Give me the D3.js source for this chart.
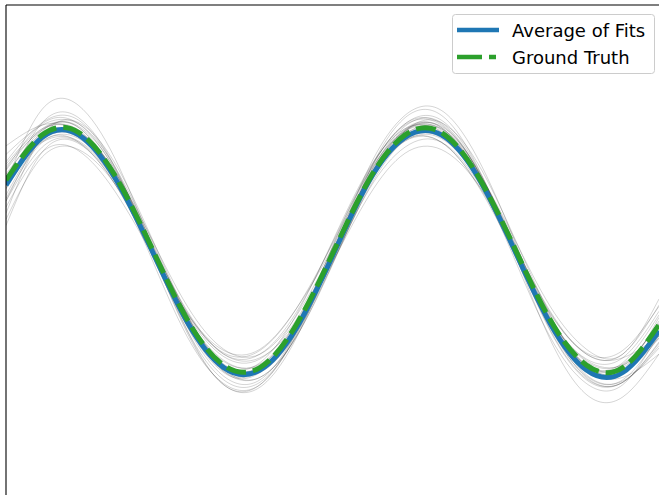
<!DOCTYPE html>
<html>
<head>
<meta charset="utf-8">
<script src="https://cdn.jsdelivr.net/npm/d3@7"></script>
<style>
    html, body { margin: 0; padding: 0; background: #fff; }
    #chart-container { width: 659px; height: 495px; overflow: hidden; }
    text { font-family: "DejaVu Sans", sans-serif; }
</style>
</head>
<body>
<div id="chart-container"></div>
<script>
// Data State
const xValues = [0, 0.1, 0.2, 0.3, 0.4, 0.5, 0.6, 0.7, 0.8, 0.9, 1.0, 1.1, 1.2, 1.3, 1.4, 1.5, 1.6, 1.7, 1.8];

const groundTruth = [0.57, 0.94, 0.96, 0.61, 0.03, -0.57, -0.94, -0.96, -0.61, -0.03, 0.57, 0.94, 0.96, 0.61, 0.03, -0.57, -0.94, -0.96, -0.61];

const averageOfFits = [0.53, 0.92, 0.94, 0.59, 0.01, -0.59, -0.96, -0.98, -0.64, -0.05, 0.56, 0.92, 0.94, 0.60, 0.01, -0.60, -0.98, -1.00, -0.66];

// individual fits (gray)
const fits = [
    [0.72, 1.04, 1.06, 0.67, 0.03, -0.63, -1.03, -1.06, -0.67, -0.03, 0.63, 1.03, 1.06, 0.67, 0.03, -0.63, -1.03, -1.06, -0.70],
    [0.42, 0.88, 0.88, 0.54, 0.01, -0.52, -0.84, -0.82, -0.48, 0.05, 0.58, 0.90, 0.88, 0.54, 0.01, -0.52, -0.84, -0.82, -0.46],
    [0.40, 0.91, 0.96, 0.63, 0.04, -0.59, -0.99, -1.04, -0.71, -0.12, 0.52, 0.94, 0.99, 0.65, 0.04, -0.60, -1.02, -1.07, -0.80],
    [0.70, 0.99, 0.97, 0.63, 0.06, -0.51, -0.85, -0.85, -0.51, 0.06, 0.63, 0.97, 0.97, 0.63, 0.06, -0.51, -0.85, -0.85, -0.45],
    [0.50, 1.04, 1.08, 0.68, 0.01, -0.68, -1.10, -1.12, -0.72, -0.05, 0.61, 1.01, 1.04, 0.65, 0.01, -0.65, -1.05, -1.08, -0.78],
    [0.25, 0.76, 0.82, 0.54, 0.04, -0.50, -0.85, -0.88, -0.60, -0.10, 0.44, 0.79, 0.82, 0.54, 0.04, -0.50, -0.85, -0.88, -0.70],
    [0.85, 1.02, 0.96, 0.57, -0.03, -0.62, -0.95, -0.92, -0.53, 0.07, 0.66, 0.99, 0.96, 0.57, -0.03, -0.62, -0.95, -0.92, -0.53],
    [0.30, 0.93, 1.04, 0.71, 0.11, -0.53, -0.97, -1.04, -0.71, -0.11, 0.53, 0.97, 1.04, 0.71, 0.11, -0.53, -0.97, -1.04, -0.85],
    [0.60, 0.88, 0.89, 0.57, 0.03, -0.53, -0.87, -0.89, -0.57, -0.03, 0.59, 0.97, 0.99, 0.63, 0.03, -0.59, -0.97, -0.99, -0.62],
    [0.55, 1.15, 1.18, 0.75, 0.05, -0.66, -1.10, -1.10, -0.67, 0.03, 0.65, 1.02, 1.02, 0.65, 0.04, -0.57, -0.94, -0.94, -0.60],
    [0.35, 0.80, 0.81, 0.48, -0.02, -0.52, -0.82, -0.81, -0.48, 0.02, 0.57, 0.89, 0.88, 0.53, -0.02, -0.57, -0.89, -0.88, -0.50],
    [0.78, 1.02, 1.03, 0.68, 0.09, -0.54, -0.93, -0.97, -0.62, -0.03, 0.67, 1.10, 1.14, 0.75, 0.09, -0.61, -1.04, -1.08, -0.75],
    [0.20, 0.80, 0.87, 0.54, -0.02, -0.60, -0.95, -0.97, -0.64, -0.08, 0.63, 1.08, 1.10, 0.68, -0.01, -0.73, -1.18, -1.20, -0.85],
    [0.45, 0.90, 0.96, 0.64, 0.07, -0.54, -0.94, -1.00, -0.68, -0.11, 0.50, 0.90, 0.96, 0.64, 0.07, -0.54, -0.94, -1.00, -0.72],
    [0.65, 0.99, 1.00, 0.59, -0.06, -0.71, -1.09, -1.10, -0.69, -0.04, 0.61, 0.99, 1.00, 0.59, -0.06, -0.71, -1.09, -1.10, -0.68],
    [0.55, 0.91, 0.95, 0.64, 0.10, -0.46, -0.81, -0.85, -0.54, 0.00, 0.56, 0.91, 0.95, 0.64, 0.10, -0.46, -0.81, -0.85, -0.40],
    [0.62, 0.95, 0.95, 0.59, 0.01, -0.59, -0.95, -0.95, -0.59, -0.01, 0.59, 0.95, 0.95, 0.59, 0.01, -0.59, -0.95, -0.95, -0.58],
    [0.52, 0.97, 1.01, 0.66, 0.06, -0.56, -0.95, -0.99, -0.64, -0.04, 0.58, 0.97, 1.01, 0.66, 0.06, -0.56, -0.95, -0.99, -0.66],
    [0.58, 0.89, 0.91, 0.58, 0.02, -0.56, -0.91, -0.93, -0.60, -0.04, 0.54, 0.89, 0.91, 0.58, 0.02, -0.56, -0.91, -0.93, -0.60],
    [0.66, 1.03, 1.03, 0.65, 0.02, -0.60, -0.99, -0.99, -0.61, 0.02, 0.64, 1.03, 1.03, 0.65, 0.02, -0.60, -0.99, -0.99, -0.55],
    [0.50, 0.90, 0.92, 0.58, 0.01, -0.58, -0.94, -0.96, -0.62, -0.05, 0.54, 0.90, 0.92, 0.58, 0.01, -0.58, -0.94, -0.96, -0.66],
    [0.68, 0.98, 0.98, 0.60, -0.01, -0.62, -1.00, -1.00, -0.62, -0.01, 0.60, 0.98, 0.98, 0.60, -0.01, -0.62, -1.00, -1.00, -0.70],
    [0.40, 0.84, 0.88, 0.56, 0.03, -0.55, -0.90, -0.94, -0.62, -0.09, 0.49, 0.84, 0.88, 0.56, 0.03, -0.55, -0.90, -0.94, -0.72],
    [0.60, 0.98, 1.00, 0.62, -0.01, -0.66, -1.06, -1.08, -0.70, -0.07, 0.58, 0.98, 1.00, 0.62, -0.01, -0.66, -1.06, -1.08, -0.76]
];

const legendLabels = ["Average of Fits", "Ground Truth"];

// Safe DOM Getter
function getEl(id) {
    return document.getElementById(id);
}

function renderChart() {
    if (!getEl("chart-container")) return;

    const width = 659, height = 495;
    const left = 6, top = 5;

    const container = d3.select("#chart-container");
    container.selectAll("*").remove();

    const svg = container.append("svg")
        .attr("width", width)
        .attr("height", height);

    const x = d3.scaleLinear().domain([0, 1.8]).range([left, width]);
    const y = d3.scaleLinear().domain([-2, 2]).range([height, top]);

    svg.append("clipPath").attr("id", "plot-clip")
        .append("rect")
        .attr("x", left).attr("y", top)
        .attr("width", width - left).attr("height", height - top);

    const line = d3.line()
        .x((d, i) => x(xValues[i]))
        .y(d => y(d))
        .curve(d3.curveNatural);

    const plot = svg.append("g").attr("clip-path", "url(#plot-clip)");

    plot.selectAll(".fit")
        .data(fits)
        .enter()
        .append("path")
        .attr("class", "fit")
        .attr("d", line)
        .attr("fill", "none")
        .attr("stroke", "#000")
        .attr("stroke-opacity", 0.17)
        .attr("stroke-width", 1);

    plot.append("path")
        .attr("d", line(averageOfFits))
        .attr("fill", "none")
        .attr("stroke", "#1f77b4")
        .attr("stroke-width", 5);

    plot.append("path")
        .attr("d", line(groundTruth))
        .attr("fill", "none")
        .attr("stroke", "#2ca02c")
        .attr("stroke-width", 5)
        .attr("stroke-dasharray", "20,7");

    // spines (left + top visible)
    svg.append("line")
        .attr("x1", left).attr("x2", left)
        .attr("y1", top).attr("y2", height)
        .attr("stroke", "#000").attr("stroke-width", 1.1);
    svg.append("line")
        .attr("x1", left).attr("x2", width)
        .attr("y1", top).attr("y2", top)
        .attr("stroke", "#000").attr("stroke-width", 1.1);

    // Legend
    const legend = svg.append("g").attr("transform", "translate(452,14)");
    legend.append("rect")
        .attr("x", 0.5).attr("y", 0.5)
        .attr("width", 202).attr("height", 59)
        .attr("rx", 3)
        .attr("fill", "#fff").attr("fill-opacity", 0.8)
        .attr("stroke", "#cccccc");

    const items = [
        { label: legendLabels[0], color: "#1f77b4", dash: null },
        { label: legendLabels[1], color: "#2ca02c", dash: "25,7" }
    ];

    items.forEach((item, i) => {
        const cy = 16 + i * 27;
        legend.append("line")
            .attr("x1", 5).attr("x2", i === 0 ? 47 : 44)
            .attr("y1", cy).attr("y2", cy)
            .attr("stroke", item.color)
            .attr("stroke-width", 4.5)
            .attr("stroke-dasharray", item.dash);
        legend.append("text")
            .attr("x", 60).attr("y", cy + 6.5)
            .attr("font-size", "18px")
            .attr("fill", "#000")
            .text(item.label);
    });
}

// Initialization
document.addEventListener('DOMContentLoaded', () => {
    renderChart();
});
</script>
</body>
</html>
